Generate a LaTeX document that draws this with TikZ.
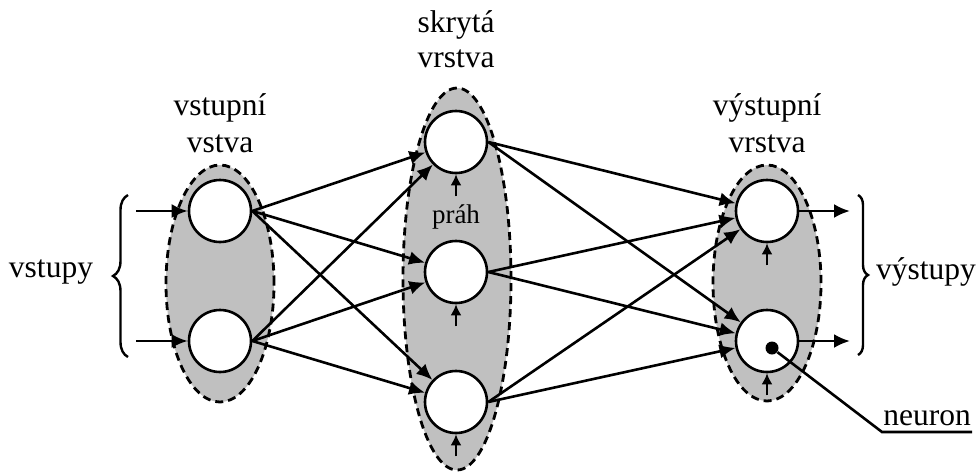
\documentclass[tikz,border=0pt]{standalone}
\usepackage{fontspec}
\setmainfont{Liberation Serif}
\usetikzlibrary{arrows.meta,decorations.pathreplacing}
\definecolor{layergray}{HTML}{C0C0C0}

\begin{document}
\begin{tikzpicture}[x=0.5pt,y=-0.5pt,
  font=\fontsize{15.75pt}{18pt}\selectfont,
  layer/.style={draw,dash pattern=on 4pt off 2.5pt,line width=1.4pt,fill=layergray},
  neuronnode/.style={circle,draw,line width=1.3pt,fill=white,minimum size=31pt,inner sep=0pt},
  link/.style={line width=1.3pt,-{Latex[length=8pt,width=7pt]}},
  bias/.style={line width=1.3pt,-{Latex[length=5.5pt,width=5.5pt]}},
  lbl/.style={anchor=base,inner sep=0pt},
  bracestyle/.style={line width=1.2pt,decorate},
]
\useasboundingbox (0,0) rectangle (979,472);

% layers
\draw[layer] (220,283.5) ellipse [x radius=27pt, y radius=59.25pt];
\draw[layer] (457,279) ellipse [x radius=27pt, y radius=95.5pt];
\draw[layer] (767,283) ellipse [x radius=27pt, y radius=59pt];

% neurons
\node[neuronnode] (i1) at (220,211) {};
\node[neuronnode] (i2) at (220,341) {};
\node[neuronnode] (h1) at (456,142) {};
\node[neuronnode] (h2) at (456,272) {};
\node[neuronnode] (h3) at (456,402) {};
\node[neuronnode] (o1) at (767,211) {};
\node[neuronnode] (o2) at (767,341) {};

% inputs and outputs
\coordinate (x1) at (136,211);
\coordinate (x2) at (136,341);
\coordinate (y1) at (850,211);
\coordinate (y2) at (850,341);
\draw[link] (x1) -- (i1);
\draw[link] (x2) -- (i2);
\draw[link] (o1) -- (y1);
\draw[link] (o2) -- (y2);

% weighted connections
\foreach \a in {i1,i2}
  \foreach \b in {h1,h2,h3}
    \draw[link] (\a.east) -- (\b);
\foreach \a in {h1,h2,h3}
  \foreach \b in {o1,o2}
    \draw[link] (\a.east) -- (\b);

% thresholds
\foreach \n in {h1,h2,h3,o1,o2} {
  \coordinate (\n b) at ([yshift=-11pt]\n.south);
  \draw[bias] (\n b) -- (\n.south);
}
\node[lbl,font=\fontsize{13.5pt}{16pt}\selectfont] (prah) at (456,223) {práh};

% layer titles
\node[lbl] (t1a) at (220,115) {vstupní};
\node[lbl] (t1b) at (220,152) {vstva};
\node[lbl] (t2a) at (456,32) {skrytá};
\node[lbl] (t2b) at (456,67) {vrstva};
\node[lbl] (t3a) at (767,115) {výstupní};
\node[lbl] (t3b) at (767,152) {vrstva};

% braces
\draw[bracestyle,decoration={brace,amplitude=7.5pt}] (128,357) -- (128,195);
\draw[bracestyle,decoration={brace,amplitude=5pt}] (858,195) -- (858,355);
\node[lbl] (inl) at (51,277) {vstupy};
\node[lbl] (outl) at (926,279) {výstupy};

% neuron callout
\node[circle,fill,inner sep=0pt,minimum size=6.5pt] (dot) at (772,348) {};
\coordinate (lk) at (882,432);
\coordinate (le) at (972,432);
\draw[line width=1.3pt] (dot) -- (lk) -- (le);
\node[lbl] (nl) at (927,425) {neuron};
\end{tikzpicture}
\end{document}
